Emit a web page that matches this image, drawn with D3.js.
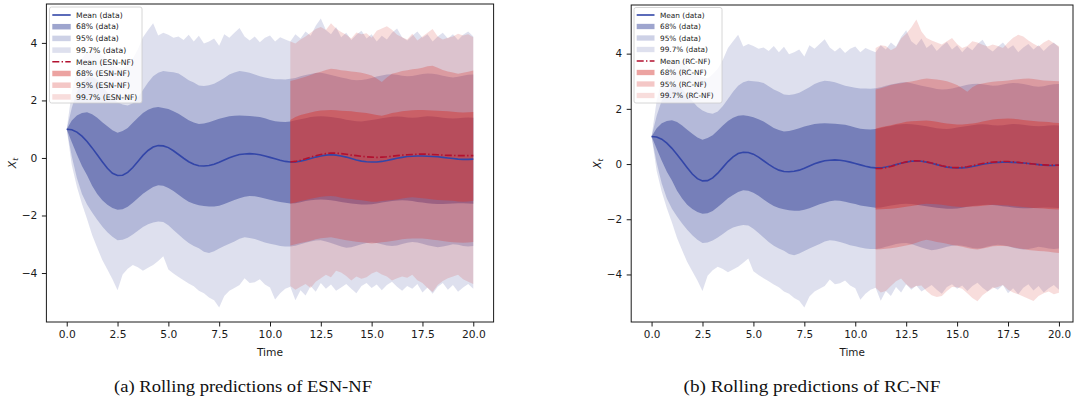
<!DOCTYPE html>
<html>
<head>
<meta charset="utf-8">
<script src="https://cdn.jsdelivr.net/npm/d3@7"></script>
<style>
  html, body { margin: 0; padding: 0; background: #ffffff; }
  svg { display: block; }
</style>
</head>
<body>
<svg id="fig" width="1076" height="407"></svg>
<script>
// ---------------------------------------------------------------
// Rolling predictions: observed process (mean and 68/95/99.7% bands)
// against the ESN-NF and RC-NF rolling forecasts from t = 11.
// Every series is sampled every 0.25 time units.
// ---------------------------------------------------------------
const timeStep = 0.25;
const dataStart = 0;
const modelStart = 11;

// observed data, t = 0 .. 20
const dataMean = [1.00,0.98,0.90,0.76,0.57,0.35,0.11,-0.13,-0.36,-0.53,
  -0.61,-0.60,-0.50,-0.33,-0.12,0.09,0.26,0.38,0.43,0.42,
  0.36,0.25,0.12,-0.01,-0.13,-0.22,-0.27,-0.28,-0.26,-0.22,
  -0.15,-0.07,0.01,0.07,0.12,0.14,0.15,0.14,0.11,0.07,
  0.02,-0.03,-0.08,-0.12,-0.14,-0.14,-0.11,-0.07,-0.02,0.03,
  0.07,0.10,0.11,0.10,0.07,0.03,-0.02,-0.07,-0.11,-0.13,
  -0.14,-0.14,-0.12,-0.09,-0.05,-0.01,0.02,0.05,0.06,0.07,
  0.07,0.06,0.05,0.04,0.02,0.00,-0.02,-0.04,-0.05,-0.05,
  -0.04];
const data68Hi = [1.00,1.30,1.48,1.56,1.59,1.52,1.40,1.24,1.10,0.96,
  0.88,0.94,1.04,1.22,1.40,1.56,1.68,1.75,1.77,1.74,
  1.70,1.62,1.54,1.42,1.31,1.23,1.18,1.20,1.24,1.30,
  1.36,1.41,1.45,1.47,1.48,1.47,1.46,1.44,1.42,1.38,
  1.32,1.28,1.26,1.25,1.27,1.31,1.35,1.38,1.42,1.44,
  1.45,1.44,1.42,1.40,1.37,1.33,1.30,1.28,1.27,1.29,
  1.32,1.35,1.38,1.41,1.43,1.44,1.43,1.41,1.40,1.41,
  1.43,1.45,1.44,1.42,1.40,1.38,1.37,1.38,1.40,1.41,
  1.40];
const data68Lo = [1.00,0.55,0.12,-0.28,-0.60,-0.97,-1.25,-1.47,-1.63,-1.74,
  -1.80,-1.78,-1.70,-1.56,-1.40,-1.24,-1.12,-1.01,-0.95,-0.97,
  -1.04,-1.15,-1.28,-1.41,-1.52,-1.59,-1.64,-1.67,-1.69,-1.69,
  -1.66,-1.60,-1.53,-1.46,-1.40,-1.35,-1.32,-1.33,-1.37,-1.41,
  -1.45,-1.50,-1.53,-1.56,-1.58,-1.57,-1.54,-1.50,-1.47,-1.45,
  -1.44,-1.45,-1.47,-1.50,-1.53,-1.56,-1.58,-1.60,-1.62,-1.62,
  -1.61,-1.58,-1.55,-1.52,-1.50,-1.48,-1.47,-1.48,-1.50,-1.53,
  -1.55,-1.57,-1.59,-1.60,-1.60,-1.59,-1.58,-1.57,-1.57,-1.58,
  -1.59];
const data95Hi = [1.00,1.75,2.30,2.62,2.80,2.82,2.72,2.50,2.28,2.08,
  1.94,1.86,1.82,1.90,2.10,2.36,2.62,2.84,2.96,3.02,
  3.00,2.98,2.94,2.82,2.70,2.62,2.52,2.50,2.53,2.58,
  2.68,2.78,2.90,2.97,3.02,3.00,2.96,2.90,2.84,2.80,
  2.76,2.74,2.74,2.73,2.75,2.78,2.84,2.88,2.92,2.95,
  2.96,2.93,2.88,2.84,2.80,2.76,2.72,2.70,2.71,2.74,
  2.78,2.83,2.87,2.90,2.91,2.89,2.86,2.84,2.85,2.88,
  2.92,2.94,2.93,2.90,2.86,2.82,2.80,2.82,2.86,2.89,
  2.90];
const data95Lo = [1.00,0.05,-0.70,-1.25,-1.62,-1.90,-2.15,-2.38,-2.58,-2.74,
  -2.86,-2.84,-2.77,-2.66,-2.53,-2.40,-2.30,-2.24,-2.21,-2.23,
  -2.34,-2.50,-2.66,-2.82,-2.96,-3.06,-3.14,-3.26,-3.30,-3.24,
  -3.15,-3.06,-2.98,-2.90,-2.81,-2.76,-2.78,-2.82,-2.88,-2.94,
  -2.98,-3.02,-3.06,-3.08,-3.08,-3.05,-3.00,-2.95,-2.90,-2.87,
  -2.86,-2.90,-2.96,-3.02,-3.08,-3.12,-3.10,-3.05,-3.00,-2.96,
  -2.94,-2.96,-3.00,-3.04,-3.06,-3.04,-2.99,-2.95,-2.92,-2.94,
  -2.98,-3.03,-3.07,-3.10,-3.08,-3.04,-3.00,-3.02,-3.06,-3.08,
  -3.06];
const data997Hi = [1.00,2.30,3.05,3.45,3.70,3.78,3.70,3.55,3.40,3.22,
  3.15,3.10,3.25,3.45,3.78,4.20,4.45,4.68,4.26,4.35,
  4.28,4.18,4.22,4.10,4.28,4.05,4.25,3.98,4.05,4.15,
  3.90,4.30,4.18,4.35,4.52,4.22,4.08,4.22,4.02,4.18,
  4.26,4.05,4.20,4.12,4.05,4.30,4.15,4.40,4.25,4.60,
  4.85,4.45,4.30,4.55,4.20,4.35,4.10,4.28,4.42,4.15,
  4.30,4.05,4.25,4.12,4.35,4.50,4.20,4.08,4.25,4.40,
  4.18,4.30,4.05,4.22,4.35,4.15,4.30,4.10,4.28,4.40,
  4.22];
const data997Lo = [1.00,-0.25,-1.00,-1.60,-2.12,-2.68,-3.12,-3.55,-3.88,-4.22,
  -4.60,-4.05,-3.85,-3.72,-3.80,-3.92,-3.82,-3.72,-3.58,-3.42,
  -3.88,-4.02,-4.14,-4.25,-4.36,-4.46,-4.62,-4.70,-4.85,-4.95,
  -5.20,-4.80,-4.62,-4.52,-4.42,-4.18,-4.35,-4.32,-4.22,-4.40,
  -4.50,-4.92,-4.70,-4.55,-4.48,-4.95,-4.60,-4.78,-4.45,-4.65,
  -4.35,-4.55,-4.40,-4.62,-4.50,-4.38,-4.55,-4.70,-4.45,-4.35,
  -4.52,-4.40,-4.60,-4.42,-4.30,-4.48,-4.62,-4.45,-4.55,-4.38,
  -4.68,-4.50,-4.72,-4.48,-4.35,-4.58,-4.42,-4.65,-4.50,-4.38,
  -4.55];

// ESN-NF rolling predictions, t = 11 .. 20
const esnMean = [-0.14,-0.12,-0.08,-0.03,0.03,0.08,0.12,0.15,0.17,0.17,
  0.15,0.13,0.10,0.08,0.06,0.04,0.03,0.02,0.03,0.04,
  0.06,0.08,0.10,0.11,0.12,0.13,0.14,0.13,0.12,0.11,
  0.10,0.09,0.09,0.08,0.08,0.08,0.08];
const esn68Hi = [1.32,1.42,1.49,1.54,1.58,1.62,1.65,1.66,1.67,1.66,
  1.64,1.63,1.62,1.60,1.58,1.56,1.53,1.49,1.47,1.51,
  1.56,1.59,1.62,1.64,1.66,1.67,1.67,1.66,1.65,1.64,
  1.63,1.62,1.61,1.59,1.58,1.59,1.60];
const esn68Lo = [-1.58,-1.55,-1.50,-1.46,-1.42,-1.38,-1.35,-1.33,-1.32,-1.34,
  -1.38,-1.41,-1.43,-1.45,-1.47,-1.50,-1.52,-1.52,-1.50,-1.48,
  -1.46,-1.44,-1.41,-1.38,-1.37,-1.38,-1.40,-1.42,-1.44,-1.46,
  -1.47,-1.48,-1.49,-1.51,-1.52,-1.51,-1.49];
const esn95Hi = [2.68,2.72,2.77,2.82,2.88,2.95,3.00,3.06,3.10,3.08,
  3.05,3.03,3.01,2.99,2.96,2.92,2.87,2.76,2.64,2.80,
  2.93,2.97,3.02,3.05,3.08,3.10,3.14,3.19,3.21,3.14,
  3.06,3.01,2.97,2.93,2.96,3.00,3.04];
const esn95Lo = [-3.04,-3.00,-2.96,-2.92,-2.88,-2.83,-2.79,-2.77,-2.76,-2.79,
  -2.83,-2.86,-2.89,-2.91,-2.93,-2.95,-2.97,-2.96,-2.93,-2.91,
  -2.89,-2.86,-2.83,-2.81,-2.80,-2.80,-2.80,-2.82,-2.84,-2.86,
  -2.89,-2.91,-2.93,-2.94,-2.95,-2.94,-2.92];
const esn997Hi = [4.05,3.98,4.12,4.22,4.35,4.48,4.55,4.45,4.68,4.50,
  4.38,4.28,4.15,4.36,4.30,4.34,4.18,4.42,4.50,4.58,
  4.46,4.28,4.20,4.12,4.32,4.08,4.22,4.35,4.48,4.22,
  4.12,4.18,4.22,4.32,4.26,4.30,4.20];
const esn997Lo = [-4.45,-4.58,-4.48,-4.38,-4.52,-4.30,-4.18,-4.06,-4.15,-3.92,
  -3.98,-4.10,-4.26,-4.12,-4.20,-4.15,-4.02,-3.95,-4.05,-4.12,
  -4.26,-4.18,-4.12,-4.16,-4.06,-4.25,-4.35,-4.52,-4.66,-4.42,
  -4.28,-4.18,-4.12,-4.06,-4.22,-4.30,-4.38];

// RC-NF rolling predictions, t = 11 .. 20
const rcMean = [-0.16,-0.16,-0.13,-0.09,-0.03,0.03,0.08,0.11,0.12,0.11,
  0.08,0.04,-0.01,-0.06,-0.10,-0.12,-0.13,-0.12,-0.10,-0.06,
  -0.02,0.02,0.05,0.07,0.08,0.09,0.09,0.08,0.06,0.04,
  0.02,0.00,-0.02,-0.03,-0.04,-0.04,-0.04];
const rc68Hi = [1.28,1.33,1.37,1.41,1.45,1.49,1.53,1.55,1.56,1.57,
  1.58,1.56,1.53,1.50,1.47,1.45,1.43,1.43,1.45,1.47,
  1.50,1.54,1.58,1.61,1.63,1.64,1.65,1.64,1.62,1.60,
  1.58,1.56,1.54,1.53,1.52,1.50,1.49];
const rc68Lo = [-1.65,-1.64,-1.63,-1.62,-1.60,-1.57,-1.55,-1.52,-1.49,-1.46,
  -1.44,-1.45,-1.46,-1.47,-1.50,-1.53,-1.55,-1.56,-1.55,-1.54,
  -1.53,-1.51,-1.49,-1.47,-1.48,-1.49,-1.50,-1.52,-1.54,-1.56,
  -1.57,-1.59,-1.60,-1.61,-1.63,-1.64,-1.65];
const rc95Hi = [2.70,2.75,2.80,2.86,2.90,2.93,2.96,2.99,3.03,3.07,
  3.10,3.08,3.06,3.04,3.00,2.94,2.86,2.75,2.62,2.78,
  2.88,2.92,2.95,2.98,3.00,3.01,3.03,3.05,3.07,3.09,
  3.10,3.08,3.05,3.03,3.02,3.01,3.00];
const rc95Lo = [-3.10,-3.09,-3.07,-3.05,-3.02,-2.99,-2.95,-2.91,-2.85,-2.79,
  -2.74,-2.78,-2.82,-2.85,-2.89,-2.93,-2.96,-3.00,-3.04,-3.08,
  -3.10,-3.06,-3.02,-2.98,-2.97,-2.97,-2.98,-3.01,-3.05,-3.08,
  -3.11,-3.13,-3.15,-3.16,-3.18,-3.20,-3.22];
const rc997Hi = [4.20,4.30,4.28,4.12,4.22,4.55,4.72,4.95,5.24,4.80,
  4.57,4.48,4.40,4.33,4.45,4.57,4.35,4.20,4.28,4.45,
  4.40,4.32,4.26,4.33,4.28,4.20,4.40,4.58,4.68,4.62,
  4.48,4.36,4.26,4.40,4.50,4.38,4.27];
const rc997Lo = [-4.48,-4.65,-4.60,-4.42,-4.25,-4.15,-4.35,-4.50,-4.42,-4.40,
  -4.60,-4.75,-4.82,-4.78,-4.60,-4.45,-4.46,-4.52,-4.68,-4.85,
  -4.97,-4.75,-4.62,-4.50,-4.45,-4.38,-4.55,-4.65,-4.72,-4.80,
  -4.88,-4.96,-4.78,-4.68,-4.62,-4.72,-4.66];

// axis ticks and labels
const xTicks = [0, 2.5, 5, 7.5, 10, 12.5, 15, 17.5, 20];
const yTicks = [-4, -2, 0, 2, 4];
const bandLevels = ["68%", "95%", "99.7%"];
const xLabel = "Time";

// ---------------------------------------------------------------
const FONT = "'DejaVu Sans', sans-serif";
const blueBase = "rgb(48,64,150)";
const redBase = "rgb(214,55,50)";
const blueAlpha = [0.47, 0.24, 0.16];
const redAlpha = [0.46, 0.28, 0.17];
const dataLineColor = "#3346a8";
const modelLineColor = "#b2102f";
const dashDot = "7,2.3,1.4,2.3";

const svg = d3.select("#fig");
const dataTimes = dataMean.map((_, i) => dataStart + i * timeStep);
const modelTimes = esnMean.map((_, i) => modelStart + i * timeStep);

const dataBands = [[data68Lo, data68Hi], [data95Lo, data95Hi], [data997Lo, data997Hi]];

function drawPanel(p) {
  const g = svg.append("g");
  const x = d3.scaleLinear().domain(p.xDomain).range([p.left, p.right]);

  // y limits: data extent with 5% margins
  const everything = [dataMean, ...dataBands.flat(), p.mean, ...p.bands.flat()].flat();
  const lo = d3.min(everything), hi = d3.max(everything), pad = (hi - lo) * 0.05;
  const y = d3.scaleLinear().domain([lo - pad, hi + pad]).range([p.bottom, p.top]);

  const clipId = "clip-" + p.id;
  g.append("clipPath").attr("id", clipId).append("rect")
    .attr("x", p.left).attr("y", p.top)
    .attr("width", p.right - p.left).attr("height", p.bottom - p.top);
  const plot = g.append("g").attr("clip-path", `url(#${clipId})`);

  const bandPath = (ts, low, high) => d3.area()
    .x((d, i) => x(ts[i])).y0((d, i) => y(low[i])).y1((d, i) => y(high[i]))(low);
  const linePath = (ts, vals) => d3.line().x((d, i) => x(ts[i])).y(d => y(d))(vals);

  dataBands.forEach(([low, high], k) => {
    plot.append("path").attr("d", bandPath(dataTimes, low, high))
      .attr("fill", blueBase).attr("fill-opacity", blueAlpha[k]);
  });
  p.bands.forEach(([low, high], k) => {
    plot.append("path").attr("d", bandPath(modelTimes, low, high))
      .attr("fill", redBase).attr("fill-opacity", redAlpha[k]);
  });
  plot.append("path").attr("d", linePath(dataTimes, dataMean))
    .attr("fill", "none").attr("stroke", dataLineColor).attr("stroke-width", 1.6);
  plot.append("path").attr("d", linePath(modelTimes, p.mean))
    .attr("fill", "none").attr("stroke", modelLineColor).attr("stroke-width", 1.6)
    .attr("stroke-dasharray", dashDot);

  // axes
  const xAxis = g.append("g").attr("transform", `translate(0,${p.bottom})`)
    .call(d3.axisBottom(x).tickValues(xTicks).tickFormat(d3.format(".1f"))
      .tickSize(4.5).tickPadding(4.2).tickSizeOuter(0));
  const yAxis = g.append("g").attr("transform", `translate(${p.left},0)`)
    .call(d3.axisLeft(y).tickValues(yTicks).tickFormat(d3.format("d"))
      .tickSize(4.5).tickPadding(4.5).tickSizeOuter(0));
  [xAxis, yAxis].forEach(a => {
    a.select(".domain").remove();
    a.selectAll(".tick line").attr("stroke", "#1a1a1a").attr("stroke-width", 1);
    a.selectAll(".tick text").attr("fill", "#1a1a1a")
      .style("font-family", FONT).style("font-size", p.tickFont + "px");
  });

  // frame
  g.append("rect").attr("x", p.left).attr("y", p.top)
    .attr("width", p.right - p.left).attr("height", p.bottom - p.top)
    .attr("fill", "none").attr("stroke", "#1a1a1a").attr("stroke-width", 1);

  // axis labels
  g.append("text").attr("x", (p.left + p.right) / 2).attr("y", p.xLabelY)
    .attr("text-anchor", "middle").attr("fill", "#1a1a1a")
    .style("font-family", FONT).style("font-size", p.tickFont + "px").text(xLabel);
  const yl = g.append("text")
    .attr("transform", `translate(${p.yLabelX},${(p.top + p.bottom) / 2}) rotate(-90)`)
    .attr("text-anchor", "middle").attr("fill", "#1a1a1a")
    .style("font-family", FONT).style("font-size", p.tickFont + "px");
  yl.append("tspan").style("font-style", "italic").text("X");
  yl.append("tspan").style("font-style", "italic").style("font-size", (p.tickFont * 0.7) + "px")
    .attr("dy", p.tickFont * 0.25).text("t");

  // legend
  const L = p.legend;
  const lg = g.append("g");
  lg.append("rect").attr("x", L.x).attr("y", L.y).attr("width", L.w).attr("height", L.h)
    .attr("rx", 2).attr("fill", "#ffffff").attr("fill-opacity", 0.8)
    .attr("stroke", "#cccccc").attr("stroke-width", 0.8);
  const entries = [
    { kind: "line", color: dataLineColor, label: "Mean (data)" },
    ...bandLevels.map((lv, k) => ({ kind: "patch", color: blueBase, alpha: blueAlpha[k], label: `${lv} (data)` })),
    { kind: "line", color: modelLineColor, dash: dashDot, label: `Mean (${p.model})` },
    ...bandLevels.map((lv, k) => ({ kind: "patch", color: redBase, alpha: redAlpha[k], label: `${lv} (${p.model})` }))
  ];
  entries.forEach((e, i) => {
    const cy = L.row0 + i * L.rowStep;
    if (e.kind === "line") {
      lg.append("line").attr("x1", L.hx0).attr("x2", L.hx1).attr("y1", cy).attr("y2", cy)
        .attr("stroke", e.color).attr("stroke-width", 1.6)
        .attr("stroke-dasharray", e.dash || null);
    } else {
      lg.append("rect").attr("x", L.hx0).attr("y", cy - L.patchH / 2)
        .attr("width", L.hx1 - L.hx0).attr("height", L.patchH)
        .attr("fill", e.color).attr("fill-opacity", e.alpha);
    }
    lg.append("text").attr("x", L.tx).attr("y", cy).attr("dy", "0.36em")
      .attr("fill", "#1a1a1a").style("font-family", FONT).style("font-size", L.font + "px")
      .text(e.label);
  });

  // sub-figure caption
  svg.append("text").attr("x", p.captionX).attr("y", p.captionY)
    .attr("text-anchor", "middle").attr("fill", "#111")
    .attr("textLength", p.captionW).attr("lengthAdjust", "spacingAndGlyphs")
    .style("font-family", "'Liberation Serif', 'DejaVu Serif', serif")
    .style("font-size", "17px").text(p.caption);
}

drawPanel({
  id: "esn", model: "ESN-NF",
  mean: esnMean, bands: [[esn68Lo, esn68Hi], [esn95Lo, esn95Hi], [esn997Lo, esn997Hi]],
  left: 46.4, right: 493.6, top: 4, bottom: 322, xDomain: [-1, 21],
  tickFont: 10.7, xLabelY: 355.5, yLabelX: 15.5,
  legend: { x: 49.5, y: 7, w: 92.5, h: 96, row0: 15, rowStep: 11.7,
            hx0: 52.3, hx1: 70.7, tx: 76, patchH: 5.5, font: 7.7 },
  caption: "(a) Rolling predictions of ESN-NF", captionX: 243, captionY: 392, captionW: 258
});

drawPanel({
  id: "rc", model: "RC-NF",
  mean: rcMean, bands: [[rc68Lo, rc68Hi], [rc95Lo, rc95Hi], [rc997Lo, rc997Hi]],
  left: 631.2, right: 1073, top: 5, bottom: 322, xDomain: [-1, 20.69],
  tickFont: 10.4, xLabelY: 355.5, yLabelX: 600.5,
  legend: { x: 634, y: 7.5, w: 88, h: 95.5, row0: 15, rowStep: 11.5,
            hx0: 636.7, hx1: 654.5, tx: 660, patchH: 5.3, font: 7.35 },
  caption: "(b) Rolling predictions of RC-NF", captionX: 812, captionY: 392, captionW: 257
});
</script>
</body>
</html>
